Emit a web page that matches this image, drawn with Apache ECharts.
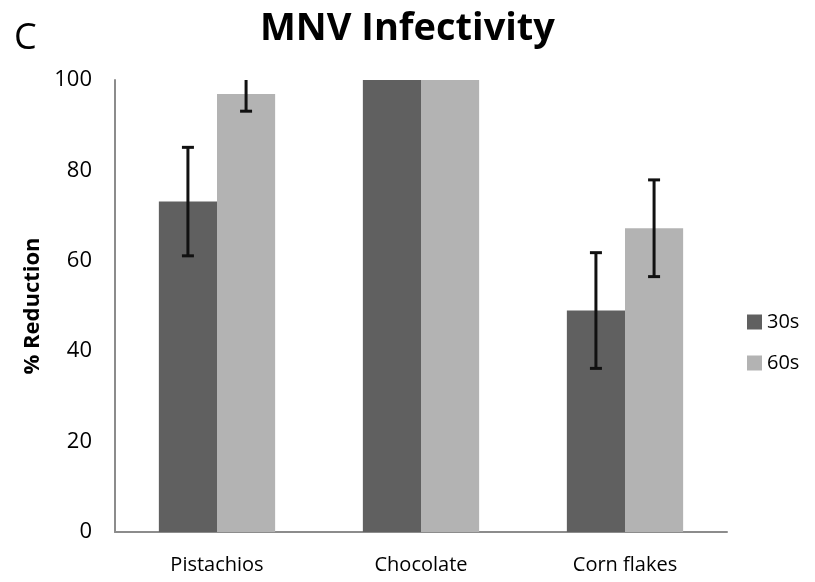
<!DOCTYPE html>
<html>
<head>
<meta charset="utf-8">
<script src="https://cdn.jsdelivr.net/npm/echarts@6/dist/echarts.min.js"></script>
<style>
  html, body { margin: 0; padding: 0; background: #fff; }
  #chart { width: 815px; height: 582px; }
</style>
</head>
<body>
<div id="chart"></div>
<script>
// MNV infectivity reduction by food matrix and exposure time
const categories = ['Pistachios', 'Chocolate', 'Corn flakes'];
const seriesNames = ['30s', '60s'];
const values30 = [73.1, 100, 49.0];
const values60 = [96.9, 100, 67.2];
const err30 = [12.0, 0, 12.8];
const err60 = [3.8, 0, 10.7];
const yTicks = [0, 20, 40, 60, 80, 100];

const colors = ['#606060', '#b3b3b3'];
const categoryGap = 0.43;
const font = '"Open Sans", "DejaVu Sans", sans-serif';

// Whisker drawing for one series; offsetSign places it over the left or right bar
function errorSeries(vals, errs, offsetSign) {
  const data = vals.map((v, i) => [i, v, errs[i]]);
  return {
    type: 'custom',
    clip: true,
    z: 10,
    silent: true,
    data: data.filter(d => d[2] > 0),
    renderItem: function (params, api) {
      const idx = api.value(0);
      const v = api.value(1);
      const e = api.value(2);
      const band = api.size([1, 0])[0];
      const barW = band * (1 - categoryGap) / 2;
      const hi = api.coord([idx, v + e]);
      const lo = api.coord([idx, v - e]);
      const x = hi[0] + offsetSign * barW / 2;
      const cap = 6;
      const style = { stroke: '#111', lineWidth: 3 };
      return {
        type: 'group',
        children: [
          { type: 'line', shape: { x1: x, y1: hi[1], x2: x, y2: lo[1] }, style: style },
          { type: 'line', shape: { x1: x - cap, y1: hi[1], x2: x + cap, y2: hi[1] }, style: style },
          { type: 'line', shape: { x1: x - cap, y1: lo[1], x2: x + cap, y2: lo[1] }, style: style }
        ]
      };
    }
  };
}

const chart = echarts.init(document.getElementById('chart'));
chart.setOption({
  animation: false,
  backgroundColor: '#ffffff',
  title: [
    {
      text: 'MNV Infectivity',
      left: 'center',
      top: 5,
      textStyle: { fontFamily: font, fontSize: 38, fontWeight: 'bold', color: '#000' }
    },
    {
      text: 'C',
      left: 9,
      top: 16,
      textStyle: { fontFamily: font, fontSize: 36, fontWeight: 'normal', color: '#000' }
    }
  ],
  legend: {
    orient: 'vertical',
    left: 742,
    top: 307,
    itemWidth: 15,
    itemHeight: 15,
    itemGap: 21,
    icon: 'rect',
    data: seriesNames,
    textStyle: { fontFamily: font, fontSize: 20, color: '#000' }
  },
  grid: { left: 115, right: 88, top: 80, bottom: 50 },
  xAxis: {
    type: 'category',
    data: categories,
    axisLine: { lineStyle: { color: '#8c8c8c', width: 2 } },
    axisTick: { show: false },
    axisLabel: { fontFamily: font, fontSize: 20, color: '#000', margin: 23 }
  },
  yAxis: {
    type: 'value',
    min: yTicks[0],
    max: yTicks[yTicks.length - 1],
    interval: 20,
    name: '% Reduction',
    nameLocation: 'middle',
    nameGap: 60,
    nameTextStyle: { fontFamily: font, fontSize: 22, fontWeight: 'bold', color: '#000' },
    axisLine: { show: true, lineStyle: { color: '#8c8c8c', width: 2 } },
    axisTick: { show: false },
    splitLine: { show: false },
    axisLabel: { fontFamily: font, fontSize: 22, color: '#000', margin: 23 }
  },
  series: [
    {
      name: seriesNames[0],
      type: 'bar',
      data: values30,
      barGap: '0%',
      barCategoryGap: (categoryGap * 100) + '%',
      itemStyle: { color: colors[0] }
    },
    {
      name: seriesNames[1],
      type: 'bar',
      data: values60,
      barGap: '0%',
      barCategoryGap: (categoryGap * 100) + '%',
      itemStyle: { color: colors[1] }
    },
    errorSeries(values30, err30, -1),
    errorSeries(values60, err60, 1)
  ]
});
</script>
</body>
</html>
